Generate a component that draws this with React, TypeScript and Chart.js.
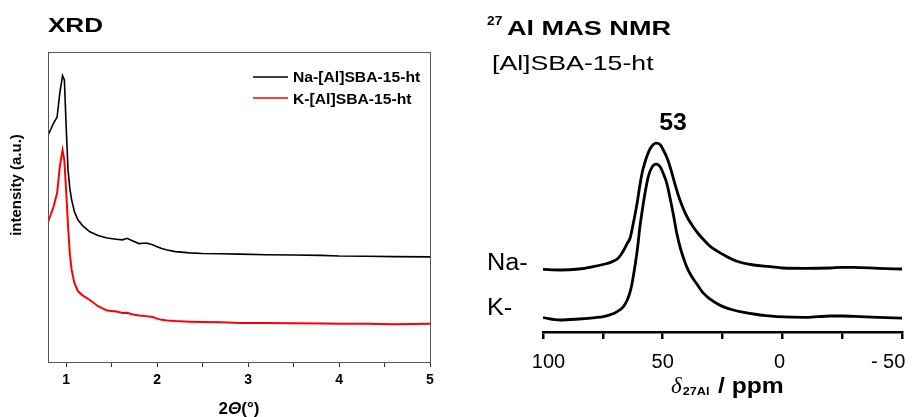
import React, { useEffect, useRef } from 'react';
import { Chart, registerables } from 'chart.js';
Chart.register(...registerables);

// ---------- XRD data ----------
const xrdTwoTheta = [0.80, 0.83, 0.86, 0.90, 0.93, 0.96, 0.98, 1.00, 1.02, 1.04, 1.06, 1.09, 1.13, 1.18, 1.26, 1.35, 1.45, 1.55, 1.62, 1.67, 1.72, 1.80, 1.88, 1.95, 2.00, 2.05, 2.11, 2.20, 2.36, 2.50, 2.70, 2.91, 3.20, 3.50, 3.80, 4.00, 4.30, 4.60, 5.00];
const xrdNa = [73.2, 75.0, 77.0, 79.0, 86.8, 92.4, 91.0, 75.8, 62.0, 56.0, 52.3, 48.5, 45.8, 44.0, 42.0, 40.8, 40.0, 39.6, 39.4, 39.9, 39.2, 38.2, 38.4, 37.8, 37.2, 36.6, 36.1, 35.6, 35.2, 35.0, 34.9, 34.8, 34.6, 34.5, 34.4, 34.2, 34.1, 34.0, 33.9];
const xrdK = [45.2, 47.5, 50.0, 54.5, 63.0, 68.4, 65.0, 55.0, 44.0, 35.0, 29.7, 25.5, 22.8, 21.5, 20.0, 18.0, 16.6, 16.3, 15.8, 15.9, 15.4, 15.0, 14.8, 14.5, 14.0, 13.6, 13.4, 13.2, 13.0, 12.9, 12.8, 12.6, 12.6, 12.5, 12.4, 12.3, 12.3, 12.2, 12.3];
const xrdLabels = ['Na-[Al]SBA-15-ht', 'K-[Al]SBA-15-ht'];
const xrdTickValues = [1, 1.5, 2, 2.5, 3, 3.5, 4, 4.5, 5];
const xrdTickLabels = ['1', '', '2', '', '3', '', '4', '', '5'];

// ---------- NMR data ----------
const naPpm = [100, 92.9, 85, 79, 74, 71, 69, 67.5, 66, 64.8, 63.6, 62.5, 61.5, 60.6, 59.5, 58.5, 57.5, 56.4, 55.3, 54, 52.8, 51, 49.5, 48, 46.5, 45, 43.5, 42, 40, 37.5, 35, 32, 30, 27, 24, 19, 12, 5, 0, -10, -20, -25, -30, -40, -50];
const naInt = [31.3, 31.0, 31.5, 32.7, 34.0, 35.2, 36.5, 38.5, 41.5, 44.3, 47.0, 53.0, 59.0, 65.0, 73.5, 80.0, 84.5, 88.5, 91.5, 93.6, 94.4, 93.6, 90.5, 86.5, 81.0, 74.5, 68.5, 63.5, 58.0, 53.0, 49.0, 45.0, 42.7, 40.3, 38.2, 35.4, 33.5, 32.7, 32.0, 31.8, 32.0, 32.3, 32.3, 31.8, 31.5];
const kPpm = [100, 92.9, 85, 78, 74.8, 72, 70, 68, 66.4, 65, 64, 63, 62.3, 61.3, 60.4, 59.5, 58.5, 57.3, 56, 54.5, 52.8, 51, 49.5, 48.3, 47, 45.5, 44.1, 42.5, 41, 40, 38, 36, 33, 30, 27, 24, 20.5, 16, 12, 7, 2.3, -10, -20, -25, -30, -40, -50];
const kInt = [7.2, 6.0, 6.5, 7.2, 7.7, 8.6, 9.5, 11.0, 12.7, 15.5, 18.5, 23.0, 27.7, 35.0, 43.0, 52.7, 61.0, 70.0, 77.7, 82.3, 83.9, 82.5, 78.5, 74.4, 67.5, 58.5, 49.4, 41.5, 36.0, 32.7, 28.0, 24.5, 19.4, 16.3, 14.0, 12.3, 11.0, 9.8, 9.0, 8.2, 7.7, 7.3, 8.0, 8.0, 7.8, 7.3, 6.9];
const nmrTickValues = [100, 75, 50, 25, 0, -25, -50];
const nmrTickLabels = ['  100', '', '50', '', '0 ', '', '- 50     '];
const nmrSeriesNames = ['Na-', 'K-'];
const nmrPeakLabel = '53';

const SANS = '"Liberation Sans", Arial, sans-serif';

function txt(ctx: CanvasRenderingContext2D, s: string, x: number, y: number, font: string, sx = 1, align = 'left') {
  ctx.save();
  ctx.font = font;
  ctx.fillStyle = '#000';
  ctx.textBaseline = 'alphabetic';
  ctx.textAlign = 'left';
  const w = ctx.measureText(s).width * sx;
  const x0 = align === 'center' ? x - w / 2 : align === 'right' ? x - w : x;
  ctx.translate(x0, y);
  ctx.scale(sx, 1);
  ctx.fillText(s, 0, 0);
  ctx.restore();
  return w;
}

const xrdPlugin = {
  id: 'xrdDeco',
  afterDraw(chart: any) {
    const ctx = chart.ctx as CanvasRenderingContext2D;
    const ca = chart.chartArea;
    ctx.save();
    ctx.strokeStyle = '#555';
    ctx.lineWidth = 1;
    ctx.strokeRect(Math.round(ca.left) + 0.5, Math.round(ca.top) + 0.5, Math.round(ca.right - ca.left), Math.round(ca.bottom - ca.top));
    ctx.restore();
    txt(ctx, 'XRD', 48, 32, `bold 21px ${SANS}`, 1.24);
    // legend
    const lineYs = [77, 98];
    const textYs = [82, 104];
    chart.data.datasets.forEach((ds: any, i: number) => {
      ctx.save();
      ctx.strokeStyle = ds.borderColor;
      ctx.lineWidth = 1.6;
      ctx.beginPath();
      ctx.moveTo(253, lineYs[i]);
      ctx.lineTo(288, lineYs[i]);
      ctx.stroke();
      ctx.restore();
      txt(ctx, ds.label, 293, textYs[i], `bold 14px ${SANS}`, 1.12);
    });
    // y title
    ctx.save();
    ctx.translate(21, 185);
    ctx.rotate(-Math.PI / 2);
    txt(ctx, 'intensity (a.u.)', 0, 0, `bold 15px ${SANS}`, 1, 'center');
    ctx.restore();
    // x title 2Θ(°)
    ctx.save();
    const f1 = `bold 17px ${SANS}`;
    const f2 = `italic bold 17px ${SANS}`;
    ctx.font = f1;
    const w1 = ctx.measureText('2').width + ctx.measureText('(°)').width;
    ctx.font = f2;
    const w2 = ctx.measureText('Θ').width;
    ctx.restore();
    let x = 239 - (w1 + w2) / 2;
    x += txt(ctx, '2', x, 414, f1);
    x += txt(ctx, 'Θ', x, 414, f2);
    txt(ctx, '(°)', x, 414, f1);
  },
};

const nmrPlugin = {
  id: 'nmrDeco',
  afterDraw(chart: any) {
    const ctx = chart.ctx as CanvasRenderingContext2D;
    txt(ctx, '27', 27, 25, `bold 12px ${SANS}`, 1.15);
    txt(ctx, 'Al MAS NMR', 47, 35, `bold 21px ${SANS}`, 1.29);
    txt(ctx, '[Al]SBA-15-ht', 32, 70, `21px ${SANS}`, 1.27);
    txt(ctx, nmrPeakLabel, 213, 130, `bold 23px ${SANS}`, 1.08, 'center');
    txt(ctx, nmrSeriesNames[0], 27, 270, `23px ${SANS}`, 1.1);
    txt(ctx, nmrSeriesNames[1], 27, 315, `23px ${SANS}`, 1.1);
    // axis title δ27Al / ppm
    let x = 211;
    x += txt(ctx, 'δ', x, 393, `italic 23px "Liberation Serif", serif`);
    x += 1;
    txt(ctx, '27Al', x, 395, `bold 11px ${SANS}`, 1.15);
    txt(ctx, '/ ppm', 258, 393, `bold 22px ${SANS}`, 1.12);
  },
};

export default function App() {
  const ref1 = useRef<HTMLCanvasElement>(null);
  const ref2 = useRef<HTMLCanvasElement>(null);

  useEffect(() => {
    const c1 = new Chart(ref1.current as HTMLCanvasElement, {
      type: 'line',
      data: {
        datasets: [
          {
            label: xrdLabels[0],
            data: xrdTwoTheta.map((x, i) => ({ x, y: xrdNa[i] })),
            borderColor: '#000000',
            borderWidth: 1.6,
            pointRadius: 0,
            tension: 0,
          },
          {
            label: xrdLabels[1],
            data: xrdTwoTheta.map((x, i) => ({ x, y: xrdK[i] })),
            borderColor: '#ff0000',
            borderWidth: 2,
            pointRadius: 0,
            tension: 0,
          },
        ],
      },
      options: {
        animation: false,
        responsive: false,
        devicePixelRatio: 1,
        layout: { padding: { left: 48, top: 52, right: 30, bottom: 0 } },
        plugins: { legend: { display: false }, tooltip: { enabled: false } },
        scales: {
          x: {
            type: 'linear',
            min: 0.8,
            max: 5,
            afterBuildTicks: (axis: any) => {
              axis.ticks = xrdTickValues.map((v) => ({ value: v }));
            },
            afterFit: (axis: any) => {
              axis.height = 55;
              axis.paddingLeft = 0;
              axis.paddingRight = 0;
            },
            ticks: {
              autoSkip: false,
              maxRotation: 0,
              padding: 5,
              color: '#000',
              font: { family: SANS, size: 14, weight: 'bold' },
              callback: (v: any) => {
                const i = xrdTickValues.indexOf(Number(v));
                return i >= 0 ? xrdTickLabels[i] : '';
              },
            },
            grid: { drawOnChartArea: false, drawTicks: true, tickLength: 5, color: '#333', lineWidth: 1 },
            border: { display: false },
          },
          y: { type: 'linear', display: false, min: 0, max: 100 },
        },
      } as any,
      plugins: [xrdPlugin],
    });

    const c2 = new Chart(ref2.current as HTMLCanvasElement, {
      type: 'line',
      data: {
        datasets: [
          {
            label: nmrSeriesNames[0],
            data: naPpm.map((x, i) => ({ x, y: naInt[i] })),
            borderColor: '#000',
            borderWidth: 2.8,
            pointRadius: 0,
            cubicInterpolationMode: 'monotone',
          },
          {
            label: nmrSeriesNames[1],
            data: kPpm.map((x, i) => ({ x, y: kInt[i] })),
            borderColor: '#000',
            borderWidth: 2.8,
            pointRadius: 0,
            cubicInterpolationMode: 'monotone',
          },
        ],
      },
      options: {
        animation: false,
        responsive: false,
        devicePixelRatio: 1,
        layout: { padding: { left: 83, top: 132, right: 16, bottom: 0 } },
        plugins: { legend: { display: false }, tooltip: { enabled: false } },
        scales: {
          x: {
            type: 'linear',
            reverse: true,
            min: -50,
            max: 100,
            afterBuildTicks: (axis: any) => {
              axis.ticks = nmrTickValues.map((v) => ({ value: v }));
            },
            afterFit: (axis: any) => {
              axis.height = 85;
              axis.paddingLeft = 0;
              axis.paddingRight = 0;
            },
            ticks: {
              autoSkip: false,
              maxRotation: 0,
              padding: 11,
              color: '#000',
              font: { family: SANS, size: 20 },
              callback: (v: any) => {
                const i = nmrTickValues.indexOf(Number(v));
                return i >= 0 ? nmrTickLabels[i] : '';
              },
            },
            grid: { drawOnChartArea: false, drawTicks: true, tickLength: 7, color: '#000', lineWidth: 2.5 },
            border: { display: true, color: '#000', width: 2.5 },
          },
          y: { type: 'linear', display: false, min: 0, max: 100 },
        },
      } as any,
      plugins: [nmrPlugin],
    });

    return () => {
      c1.destroy();
      c2.destroy();
    };
  }, []);

  return (
    <div style={{ position: 'absolute', left: 0, top: 0, width: 918, height: 417, background: '#fff', overflow: 'hidden' }}>
      <canvas ref={ref1} width={460} height={417} style={{ position: 'absolute', left: 0, top: 0, width: 460, height: 417 }} />
      <canvas ref={ref2} width={458} height={417} style={{ position: 'absolute', left: 460, top: 0, width: 458, height: 417 }} />
    </div>
  );
}
